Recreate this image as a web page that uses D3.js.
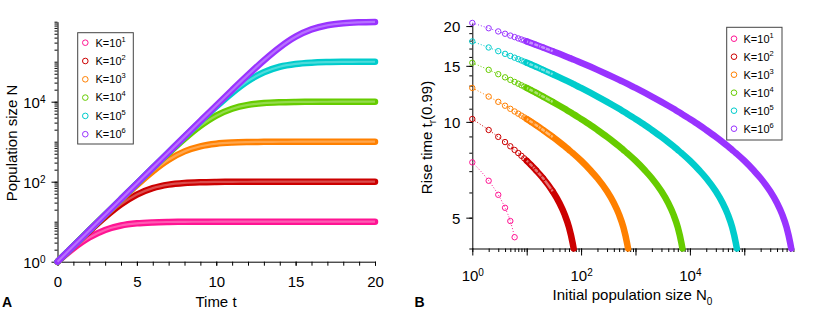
<!DOCTYPE html>
<html>
<head>
<meta charset="utf-8">
<script src="https://cdn.jsdelivr.net/npm/d3@7"></script>
<style>
  body { margin: 0; background: #fff; }
  svg text { font-family: Arial, "Liberation Sans", sans-serif; fill: #000; }
</style>
</head>
<body>
<svg id="chart" width="830" height="311"></svg>
<script>
// series: carrying capacity K = 10^k
const exponents = [1, 2, 3, 4, 5, 6];
const colors = ["#ff1493", "#cc0000", "#ff8000", "#66cc00", "#00cccc", "#9933ff"];

// panel A: population size N over time t
const timeT = [0, 1, 2, 3, 4, 5, 6, 7, 8, 9, 10, 11, 12, 13, 14, 15, 16, 17, 18, 19, 20];
const popK1 = [1, 2.146, 4.020, 6.231, 8.026, 9.091, 9.609, 9.837, 9.933, 9.973, 9.989, 9.996, 9.998, 9.999, 10, 10, 10, 10, 10, 10, 10];
const popK2 = [1, 2.424, 5.759, 13.07, 26.99, 47.62, 69.10, 84.62, 93.12, 97.08, 98.79, 99.50, 99.80, 99.92, 99.97, 99.99, 100, 100, 100, 100, 100];
const popK3 = [1, 2.456, 6.019, 14.68, 35.34, 82.66, 181.4, 352.8, 572.8, 767.3, 890.2, 952.3, 980.0, 991.8, 996.6, 998.6, 999.4, 999.8, 999.9, 1000, 1000];
const popK4 = [1, 2.459, 6.047, 14.86, 36.47, 89.22, 216.6, 516.5, 1181, 2478, 4476, 6659, 8306, 9234, 9674, 9865, 9945, 9977, 9991, 9996, 9999];
const popK5 = [1, 2.460, 6.049, 14.88, 36.59, 89.94, 220.9, 541.6, 1322, 3189, 7496, 16618, 32896, 54664, 74783, 87943, 94720, 97784, 99087, 99626, 99848];
const popK6 = [1, 2.460, 6.050, 14.88, 36.60, 90.01, 221.4, 544.3, 1338, 3284, 8038, 19540, 46730, 107600, 228740, 421740, 642110, 815250, 915650, 963890, 985000];

// panel B: rise time t_r(0.99) over initial population N0
const n0Grid = [1, 2, 3, 4, 5, 6, 7, 8, 9, 10, 12, 15, 20, 30, 40, 50, 60, 70, 73, 100, 150, 200, 300, 400, 500, 600, 700, 730,
  1000, 1500, 2000, 3000, 4000, 5000, 6000, 7000, 7300, 10000, 15000, 20000, 30000, 40000, 50000, 60000, 70000, 73000,
  100000, 150000, 200000, 300000, 400000, 500000, 600000, 700000, 730000];
const trK1 = [7.46, 6.53, 5.90, 5.37, 4.88, 4.34];
const trK2 = [10.21, 9.43, 8.97, 8.64, 8.38, 8.16, 7.98, 7.82, 7.68, 7.55, 7.32, 7.03, 6.65, 6.05, 5.56, 5.11, 4.66, 4.16, 4.00];
const trK3 = [12.78, 12.01, 11.56, 11.24, 10.99, 10.78, 10.61, 10.46, 10.33, 10.21, 10.01, 9.76, 9.43, 8.97, 8.64, 8.38, 8.16, 7.98, 7.93,
  7.55, 7.03, 6.65, 6.05, 5.56, 5.11, 4.66, 4.16, 4.00];
const trK4 = [15.34, 14.57, 14.12, 13.80, 13.55, 13.35, 13.18, 13.03, 12.90, 12.78, 12.58, 12.33, 12.01, 11.56, 11.24, 10.99, 10.78, 10.61, 10.56,
  10.21, 9.76, 9.43, 8.97, 8.64, 8.38, 8.16, 7.98, 7.93, 7.55, 7.03, 6.65, 6.05, 5.56, 5.11, 4.66, 4.16, 4.00];
const trK5 = [17.90, 17.13, 16.68, 16.36, 16.11, 15.91, 15.74, 15.59, 15.46, 15.34, 15.14, 14.89, 14.57, 14.12, 13.80, 13.55, 13.35, 13.18, 13.13,
  12.78, 12.33, 12.01, 11.56, 11.24, 10.99, 10.78, 10.61, 10.56, 10.21, 9.76, 9.43, 8.97, 8.64, 8.38, 8.16, 7.98, 7.93,
  7.55, 7.03, 6.65, 6.05, 5.56, 5.11, 4.66, 4.16, 4.00];
const trK6 = [20.46, 19.69, 19.24, 18.92, 18.67, 18.47, 18.29, 18.15, 18.02, 17.90, 17.70, 17.45, 17.13, 16.68, 16.36, 16.11, 15.91, 15.74, 15.69,
  15.34, 14.89, 14.57, 14.12, 13.80, 13.55, 13.35, 13.18, 13.13, 12.78, 12.33, 12.01, 11.56, 11.24, 10.99, 10.78, 10.61, 10.56,
  10.21, 9.76, 9.43, 8.97, 8.64, 8.38, 8.16, 7.98, 7.93, 7.55, 7.03, 6.65, 6.05, 5.56, 5.11, 4.66, 4.16, 4.00];

// tick labels
const timeTicks = [0, 5, 10, 15, 20];
const popTickExp = [0, 2, 4];
const n0TickExp = [0, 2, 4];
const riseTicks = [5, 10, 15, 20];

const popSeries = [popK1, popK2, popK3, popK4, popK5, popK6];
const riseSeries = [trK1, trK2, trK3, trK4, trK5, trK6];

const svg = d3.select("#chart");
const font = "Arial, 'Liberation Sans', sans-serif";

// scales
const xA = d3.scaleLinear().domain([0, 20]).range([57.5, 375]);
const yA = d3.scaleLog().domain([1, 1e6]).range([261.7, 21.7]);
const xB = d3.scaleLog().domain([1, 8e5]).range([472.3, 793.4]);
const yB = d3.scaleLog().domain([4, 20.45]).range([248.5, 23]);

function cleanAxis(g, size) {
  g.attr("font-family", font).attr("font-size", size);
  g.selectAll("path.domain").attr("stroke", "#000").attr("stroke-width", 1);
  g.selectAll("line").attr("stroke", "#000").attr("stroke-width", 1);
}

function powerLabels(g, dy) {
  g.selectAll(".tick text").each(function(d) {
    const t = d3.select(this);
    const e = Math.round(Math.log10(d));
    t.text(null);
    t.append("tspan").text("10");
    t.append("tspan").attr("dy", dy).attr("font-size", 10).text(e);
  });
}

// ---------- panel A axes ----------
svg.append("g")
  .attr("transform", `translate(0,${yA.range()[0]})`)
  .call(d3.axisBottom(xA).ticks(20).tickSize(4).tickSizeOuter(0).tickFormat(""))
  .call(g => cleanAxis(g, 15));

const axA = svg.append("g")
  .attr("transform", `translate(0,${yA.range()[0]})`)
  .call(d3.axisBottom(xA).tickValues(timeTicks).tickSize(4).tickSizeOuter(0))
  .call(g => cleanAxis(g, 15));
axA.select(".domain").remove();
axA.selectAll(".tick text").attr("y", 25.3).attr("dy", 0);

svg.append("g")
  .attr("transform", `translate(${xA.range()[0]},0)`)
  .call(d3.axisLeft(yA).tickValues(yA.ticks()).tickSize(3).tickSizeOuter(0).tickFormat(""))
  .call(g => cleanAxis(g, 15));

const ayA = svg.append("g")
  .attr("transform", `translate(${xA.range()[0]},0)`)
  .call(d3.axisLeft(yA).tickValues(popTickExp.map(e => Math.pow(10, e))).tickSize(6).tickPadding(6).tickSizeOuter(0))
  .call(g => cleanAxis(g, 15));
ayA.select(".domain").remove();
ayA.selectAll(".tick text").attr("dy", "0.36em");
powerLabels(ayA, "-0.5em");

// ---------- panel A curves ----------
const lineA = d3.line()
  .x((d, i) => xA(timeT[i]))
  .y(d => yA(d))
  .curve(d3.curveMonotoneX);

popSeries.forEach((vals, i) => {
  svg.append("path")
    .datum(vals)
    .attr("d", lineA)
    .attr("fill", "none")
    .attr("stroke", colors[i])
    .attr("stroke-width", 6.5)
    .attr("stroke-linecap", "round")
    .attr("stroke-linejoin", "round");
  svg.append("path")
    .datum(vals)
    .attr("d", lineA)
    .attr("fill", "none")
    .attr("stroke", "#fff")
    .attr("stroke-opacity", 0.3)
    .attr("stroke-width", 2.2);
});

// ---------- panel B axes ----------
svg.append("g")
  .attr("transform", `translate(0,${yB.range()[0]})`)
  .call(d3.axisBottom(xB).tickValues(xB.ticks()).tickSize(3.5).tickSizeOuter(0).tickFormat(""))
  .call(g => cleanAxis(g, 15));

const axB = svg.append("g")
  .attr("transform", `translate(0,${yB.range()[0]})`)
  .call(d3.axisBottom(xB).tickValues([1, 10, 100, 1000, 10000, 100000]).tickSize(7).tickSizeOuter(0))
  .call(g => cleanAxis(g, 15));
axB.select(".domain").remove();
axB.selectAll(".tick text")
  .filter(d => !n0TickExp.includes(Math.round(Math.log10(d))))
  .remove();
axB.selectAll(".tick text").attr("y", 32.3).attr("dy", 0);
powerLabels(axB, "-0.5em");

svg.append("g")
  .attr("transform", `translate(${xB.range()[0]},0)`)
  .call(d3.axisLeft(yB).tickValues(d3.range(4, 21)).tickSize(3).tickSizeOuter(0).tickFormat(""))
  .call(g => cleanAxis(g, 15));

const ayB = svg.append("g")
  .attr("transform", `translate(${xB.range()[0]},0)`)
  .call(d3.axisLeft(yB).tickValues(riseTicks).tickSize(6).tickPadding(6).tickSizeOuter(0))
  .call(g => cleanAxis(g, 15));
ayB.select(".domain").remove();
ayB.selectAll(".tick text").attr("dy", "0.36em");

// ---------- panel B curves ----------
const lineB = d3.line()
  .x(d => xB(d[0]))
  .y(d => yB(d[1]))
  .curve(d3.curveMonotoneX);

riseSeries.forEach((vals, i) => {
  const pts = vals.map((v, j) => [n0Grid[j], v]);
  svg.append("path")
    .datum(pts)
    .attr("d", lineB)
    .attr("fill", "none")
    .attr("stroke", colors[i])
    .attr("stroke-width", 1)
    .attr("stroke-dasharray", "1,2");
  if (pts.length > 10) {
    // dense run of markers: outer band, lighter core where rings still show
    svg.append("path")
      .datum(pts.slice(9))
      .attr("d", lineB)
      .attr("fill", "none")
      .attr("stroke", colors[i])
      .attr("stroke-width", 6.5)
      .attr("stroke-linecap", "round")
      .attr("stroke-linejoin", "round");
    svg.append("path")
      .datum(pts.slice(9, 14))
      .attr("d", lineB)
      .attr("fill", "none")
      .attr("stroke", "#fff")
      .attr("stroke-opacity", 0.45)
      .attr("stroke-width", 2.5);
  }
  svg.selectAll(null)
    .data(pts.slice(0, 14))
    .enter().append("circle")
    .attr("cx", d => xB(d[0]))
    .attr("cy", d => yB(d[1]))
    .attr("r", 2.7)
    .attr("fill", "none")
    .attr("stroke", colors[i])
    .attr("stroke-width", 1);
});

// ---------- legends ----------
function legend(x0, y0, w, h, cx, tx, row0, step) {
  const g = svg.append("g");
  g.append("rect")
    .attr("x", x0).attr("y", y0).attr("width", w).attr("height", h)
    .attr("fill", "#fff").attr("stroke", "#444").attr("stroke-width", 1);
  exponents.forEach((e, i) => {
    const cy = row0 + i * step;
    g.append("circle")
      .attr("cx", cx).attr("cy", cy).attr("r", 2.8)
      .attr("fill", "none").attr("stroke", colors[i]).attr("stroke-width", 1);
    const t = g.append("text")
      .attr("x", tx).attr("y", cy + 3.8)
      .attr("font-size", 11);
    t.append("tspan").text("K=10");
    t.append("tspan").attr("dy", -5).attr("font-size", 7.5).text(e);
  });
}
legend(77.7, 32.7, 55.6, 111.3, 85.3, 95.5, 42.7, 18.3);
legend(726.7, 27.3, 55.3, 112.7, 734, 743.5, 38.7, 18);

// ---------- titles ----------
svg.append("text")
  .attr("x", 216).attr("y", 306.5)
  .attr("text-anchor", "middle").attr("font-size", 15)
  .text("Time t");

svg.append("text")
  .attr("transform", "translate(16.5,143) rotate(-90)")
  .attr("text-anchor", "middle").attr("font-size", 15)
  .text("Population size N");

const xlabB = svg.append("text")
  .attr("x", 632.5).attr("y", 300)
  .attr("text-anchor", "middle").attr("font-size", 15);
xlabB.append("tspan").text("Initial population size N");
xlabB.append("tspan").attr("dy", 5).attr("font-size", 10).text("0");

const ylabB = svg.append("text")
  .attr("transform", "translate(432,137.5) rotate(-90)")
  .attr("text-anchor", "middle").attr("font-size", 15);
ylabB.append("tspan").text("Rise time t");
ylabB.append("tspan").attr("dy", 4).attr("font-size", 10).text("r");
ylabB.append("tspan").attr("dy", -4).text("(0.99)");

svg.append("text")
  .attr("x", 2).attr("y", 306.5)
  .attr("font-size", 14).attr("font-weight", "bold")
  .text("A");
svg.append("text")
  .attr("x", 414.5).attr("y", 306.5)
  .attr("font-size", 14).attr("font-weight", "bold")
  .text("B");
</script>
</body>
</html>
